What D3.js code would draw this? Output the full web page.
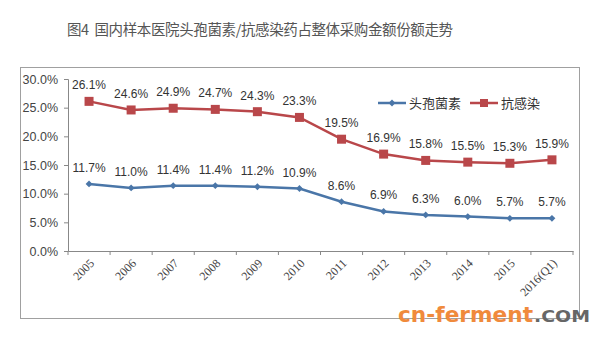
<!DOCTYPE html>
<html><head><meta charset="utf-8">
<script src="https://cdn.jsdelivr.net/npm/d3@7"></script>
<style>body{margin:0;background:#fff}svg{display:block}</style>
</head><body>
<svg id="c" width="604" height="338"></svg>
<script>
const categories = ["2005","2006","2007","2008","2009","2010","2011","2012","2013","2014","2015","2016(Q1)"];
const cephalosporin = [11.7,11.0,11.4,11.4,11.2,10.9,8.6,6.9,6.3,6.0,5.7,5.7];
const antiInfective = [26.1,24.6,24.9,24.7,24.3,23.3,19.5,16.9,15.8,15.5,15.3,15.9];
const yTicks = [0,5,10,15,20,25,30];
const seriesNames = ["头孢菌素","抗感染"];
const title = "图4  国内样本医院头孢菌素/抗感染药占整体采购金额份额走势";

const svg = d3.select("#c");
const blue = "#4a76a8", red = "#b9474a";
const numFont = "'Liberation Sans', Arial, sans-serif";

svg.append("text").attr("x",67).attr("y",35).style("white-space","pre")
  .attr("font-family","'Noto Sans CJK SC', sans-serif").attr("font-size",14.5).attr("fill","#555")
  .attr("textLength",386).attr("lengthAdjust","spacing")
  .text(title);

svg.append("rect").attr("x",20.5).attr("y",67.5).attr("width",559).attr("height",251)
  .attr("fill","#fff").attr("stroke","#a0a0a0").attr("stroke-width",1);

const x = d3.scaleBand().domain(categories).range([68,573]);
const y = d3.scaleLinear().domain([0,30]).range([251,79]);

// y axis
const yAxis = svg.append("g").attr("transform","translate(68,0)")
  .call(d3.axisLeft(y).tickValues(yTicks).tickSize(4).tickFormat(d=>d.toFixed(1)+"%"));
yAxis.select(".domain").attr("stroke","#888");
yAxis.selectAll(".tick line").attr("stroke","#888");
yAxis.selectAll("text").attr("font-family",numFont).attr("font-size",12.5).attr("fill","#444").attr("x",-10);

// x axis
const xAxis = svg.append("g").attr("transform","translate(0,251)")
  .call(d3.axisBottom(x).tickSize(0).tickSizeOuter(0));
xAxis.select(".domain").attr("stroke","#888");
xAxis.selectAll(".tick line").remove();
const bounds = categories.map((c)=>x(c)).concat([x.range()[1]]);
xAxis.selectAll(".bt").data(bounds).enter().append("line")
  .attr("x1",d=>d).attr("x2",d=>d).attr("y1",0).attr("y2",4).attr("stroke","#888");
xAxis.selectAll(".tick text").attr("font-family","'Liberation Serif', 'Times New Roman', serif")
  .attr("font-size",12).attr("fill","#444")
  .attr("text-anchor","end").attr("transform","translate(0,7) rotate(-45)").attr("dy","0.7em").attr("y",0).attr("x",0);

const cx = c => x(c) + x.bandwidth()/2;
const line = d3.line().x((d,i)=>cx(categories[i])).y(d=>y(d));

function drawSeries(vals, color, marker, labelDy){
  svg.append("path").datum(vals).attr("d",line).attr("fill","none").attr("stroke",color).attr("stroke-width",2.5);
  const g = svg.append("g");
  if(marker==="square"){
    g.selectAll("rect").data(vals).enter().append("rect")
      .attr("x",(d,i)=>cx(categories[i])-4.5).attr("y",d=>y(d)-4.5).attr("width",9).attr("height",9).attr("fill",color);
  } else {
    g.selectAll("path").data(vals).enter().append("path")
      .attr("d",d3.symbol(d3.symbolDiamond2,30)).attr("transform",(d,i)=>`translate(${cx(categories[i])},${y(d)})`).attr("fill",color);
  }
  svg.append("g").selectAll("text").data(vals).enter().append("text")
    .attr("x",(d,i)=>cx(categories[i])).attr("y",d=>y(d)+labelDy).attr("text-anchor","middle")
    .attr("font-family",numFont).attr("font-size",12).attr("fill","#333")
    .text(d=>d.toFixed(1)+"%");
}
drawSeries(antiInfective, red, "square", -12);
drawSeries(cephalosporin, blue, "diamond", -12);

// legend
const lg = svg.append("g").attr("transform","translate(378,103)");
[[0,blue,"diamond"],[92,red,"square"]].forEach(([dx,col,m],i)=>{
  lg.append("line").attr("x1",dx).attr("x2",dx+28).attr("stroke",col).attr("stroke-width",2.5);
  if(m==="square") lg.append("rect").attr("x",dx+10).attr("y",-4).attr("width",8).attr("height",8).attr("fill",col);
  else lg.append("path").attr("d",d3.symbol(d3.symbolDiamond2,30)).attr("transform",`translate(${dx+14},0)`).attr("fill",col);
  lg.append("text").attr("x",dx+31).attr("y",5).attr("font-family","'Noto Sans CJK SC', sans-serif")
    .attr("font-size",13).attr("fill","#333").text(seriesNames[i]);
});

// watermark
svg.append("text").attr("x",398).attr("y",322).attr("font-family","'DejaVu Sans', sans-serif")
  .attr("font-weight","bold").attr("font-size",21).attr("fill","#f08a3c")
  .attr("textLength",135).attr("lengthAdjust","spacingAndGlyphs").text("cn-ferment");
svg.append("text").attr("x",534).attr("y",322).attr("font-family","'DejaVu Sans', sans-serif")
  .attr("font-weight","bold").attr("font-size",15).attr("fill","#666")
  .attr("textLength",56).attr("lengthAdjust","spacingAndGlyphs").text(".COM");
</script>
</body></html>
